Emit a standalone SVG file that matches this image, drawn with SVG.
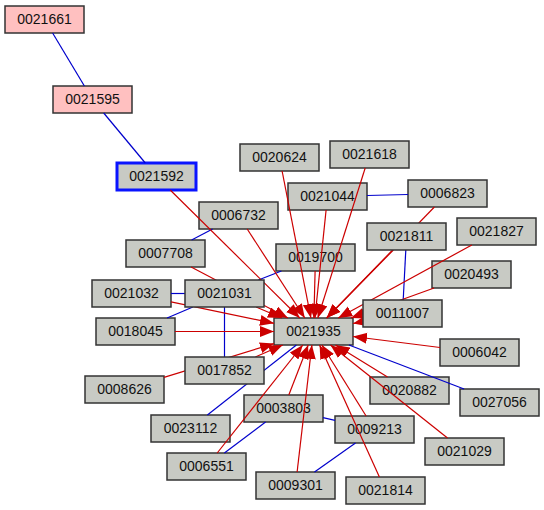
<svg xmlns="http://www.w3.org/2000/svg" width="544" height="510" viewBox="0 0 544 510">
<style>
.n rect{fill:#c8cac4;stroke:#333333;stroke-width:1.5}
.n.pink rect{fill:#ffc0c0}
.n.sel rect{stroke:#0a14ff;stroke-width:3}
.n text{font-family:"Liberation Sans",Arial,sans-serif;font-size:14px;fill:#111;text-anchor:middle}
.r{stroke:#cc0000;stroke-width:1.2;fill:none;marker-end:url(#ah)}
.b{stroke:#0000cc;stroke-width:1.2;fill:none}
</style>
<defs>
<marker id="ah" markerUnits="userSpaceOnUse" markerWidth="15" markerHeight="12" refX="14" refY="5.5" orient="auto">
<path d="M0,0 L14,5.5 L0,11 z" fill="#cc0000"/>
</marker>
</defs>
<rect width="544" height="510" fill="#ffffff"/>
<g id="nodes-back">
<g id="n0021661" class="n pink"><rect x="5" y="6" width="79" height="27"/><text x="44.5" y="24">0021661</text></g>
<g id="n0021595" class="n pink"><rect x="53" y="86" width="79" height="27"/><text x="92.5" y="104">0021595</text></g>
<g id="n0021592" class="n sel"><rect x="117" y="163" width="79" height="27"/><text x="156.5" y="181">0021592</text></g>
<g id="n0020624" class="n"><rect x="240" y="144" width="79" height="27"/><text x="279.5" y="162">0020624</text></g>
<g id="n0021618" class="n"><rect x="330" y="141" width="79" height="27"/><text x="369.5" y="159">0021618</text></g>
<g id="n0021044" class="n"><rect x="288" y="183" width="79" height="27"/><text x="327.5" y="201">0021044</text></g>
<g id="n0006823" class="n"><rect x="408" y="180" width="79" height="27"/><text x="447.5" y="198">0006823</text></g>
<g id="n0006732" class="n"><rect x="199" y="202" width="79" height="27"/><text x="238.5" y="220">0006732</text></g>
<g id="n0021827" class="n"><rect x="457" y="218" width="79" height="27"/><text x="496.5" y="236">0021827</text></g>
<g id="n0007708" class="n"><rect x="126" y="240" width="79" height="27"/><text x="165.5" y="258">0007708</text></g>
<g id="n0019700" class="n"><rect x="276" y="244" width="79" height="27"/><text x="315.5" y="262">0019700</text></g>
<g id="n0020493" class="n"><rect x="432" y="261" width="79" height="27"/><text x="471.5" y="279">0020493</text></g>
<g id="n0021032" class="n"><rect x="92" y="280" width="79" height="27"/><text x="131.5" y="298">0021032</text></g>
<g id="n0018045" class="n"><rect x="96" y="318" width="79" height="27"/><text x="135.5" y="336">0018045</text></g>
<g id="n0021935" class="n"><rect x="274" y="318" width="79" height="27"/><text x="313.5" y="336">0021935</text></g>
<g id="n0006042" class="n"><rect x="440" y="339" width="79" height="27"/><text x="479.5" y="357">0006042</text></g>
<g id="n0008626" class="n"><rect x="85" y="376" width="79" height="27"/><text x="124.5" y="394">0008626</text></g>
<g id="n0020882" class="n"><rect x="370" y="377" width="79" height="27"/><text x="409.5" y="395">0020882</text></g>
<g id="n0027056" class="n"><rect x="460" y="389" width="79" height="27"/><text x="499.5" y="407">0027056</text></g>
<g id="n0003803" class="n"><rect x="244" y="395" width="79" height="27"/><text x="283.5" y="413">0003803</text></g>
<g id="n0023112" class="n"><rect x="151" y="415" width="79" height="27"/><text x="190.5" y="433">0023112</text></g>
<g id="n0009213" class="n"><rect x="335" y="416" width="79" height="27"/><text x="374.5" y="434">0009213</text></g>
<g id="n0021029" class="n"><rect x="425" y="438" width="79" height="27"/><text x="464.5" y="456">0021029</text></g>
<g id="n0006551" class="n"><rect x="167" y="453" width="79" height="27"/><text x="206.5" y="471">0006551</text></g>
<g id="n0009301" class="n"><rect x="256" y="472" width="79" height="27"/><text x="295.5" y="490">0009301</text></g>
<g id="n0021814" class="n"><rect x="346" y="477" width="79" height="27"/><text x="385.5" y="495">0021814</text></g>
</g>
<g id="connectors">
<line class="b" x1="52.6" y1="33" x2="84.4" y2="86"/>
<line class="b" x1="103.7" y1="113" x2="145.3" y2="163"/>
<line class="b" x1="212.6" y1="229" x2="191.6" y2="240"/>
<line class="b" x1="281.4" y1="271" x2="258.4" y2="280"/>
<line class="b" x1="367" y1="195.5" x2="408" y2="194.5"/>
<line class="b" x1="405.8" y1="250" x2="403.2" y2="300"/>
<line class="b" x1="171" y1="293.5" x2="185" y2="293.5"/>
<line class="b" x1="167.1" y1="318" x2="192.9" y2="307"/>
<line class="b" x1="224.5" y1="307" x2="224.5" y2="357"/>
<line class="b" x1="296.4" y1="345" x2="207.4" y2="415"/>
<line class="b" x1="265.6" y1="422" x2="224.4" y2="453"/>
<line class="b" x1="323" y1="417.6" x2="335" y2="420.4"/>
<line class="b" x1="355.5" y1="443" x2="314.5" y2="472"/>
<line class="b" x1="348.9" y1="345" x2="464.1" y2="389"/>
<line class="r" x1="170.2" y1="190" x2="299.8" y2="318"/>
<line class="r" x1="282.1" y1="171" x2="310.9" y2="318"/>
<line class="r" x1="365.2" y1="168" x2="317.8" y2="318"/>
<line class="r" x1="326.1" y1="210" x2="314.9" y2="318"/>
<line class="r" x1="434.4" y1="207" x2="326.6" y2="318"/>
<line class="r" x1="247.2" y1="229" x2="304.8" y2="318"/>
<line class="r" x1="393.3" y1="250" x2="326.7" y2="318"/>
<line class="r" x1="471.8" y1="245" x2="338.2" y2="318"/>
<line class="r" x1="191.1" y1="267" x2="287.9" y2="318"/>
<line class="r" x1="315.1" y1="271" x2="313.9" y2="318"/>
<line class="r" x1="434.1" y1="288" x2="350.9" y2="318"/>
<line class="r" x1="171" y1="301.8" x2="274" y2="323.3"/>
<line class="r" x1="256.1" y1="307" x2="281.9" y2="318"/>
<line class="r" x1="363" y1="321.5" x2="353" y2="323.5"/>
<line class="r" x1="175" y1="331.5" x2="274" y2="331.5"/>
<line class="r" x1="440" y1="347.5" x2="353" y2="336.5"/>
<line class="r" x1="255.3" y1="357" x2="282.7" y2="345"/>
<line class="r" x1="164" y1="377.4" x2="274" y2="343.6"/>
<line class="r" x1="387.5" y1="377" x2="335.5" y2="345"/>
<line class="r" x1="288.8" y1="395" x2="308.2" y2="345"/>
<line class="r" x1="366.1" y1="416" x2="321.9" y2="345"/>
<line class="r" x1="447.5" y1="438" x2="330.5" y2="345"/>
<line class="r" x1="217.2" y1="453" x2="302.8" y2="345"/>
<line class="r" x1="297.1" y1="472" x2="311.9" y2="345"/>
<line class="r" x1="379.4" y1="477" x2="319.6" y2="345"/>
</g>
<g id="nodes-front">
<g id="n0021811" class="n"><rect x="367" y="223" width="79" height="27"/><text x="406.5" y="241">0021811</text></g>
<g id="n0021031" class="n"><rect x="185" y="280" width="79" height="27"/><text x="224.5" y="298">0021031</text></g>
<g id="n0011007" class="n"><rect x="363" y="300" width="79" height="27"/><text x="402.5" y="318">0011007</text></g>
<g id="n0017852" class="n"><rect x="185" y="357" width="79" height="27"/><text x="224.5" y="375">0017852</text></g>
</g>
</svg>
